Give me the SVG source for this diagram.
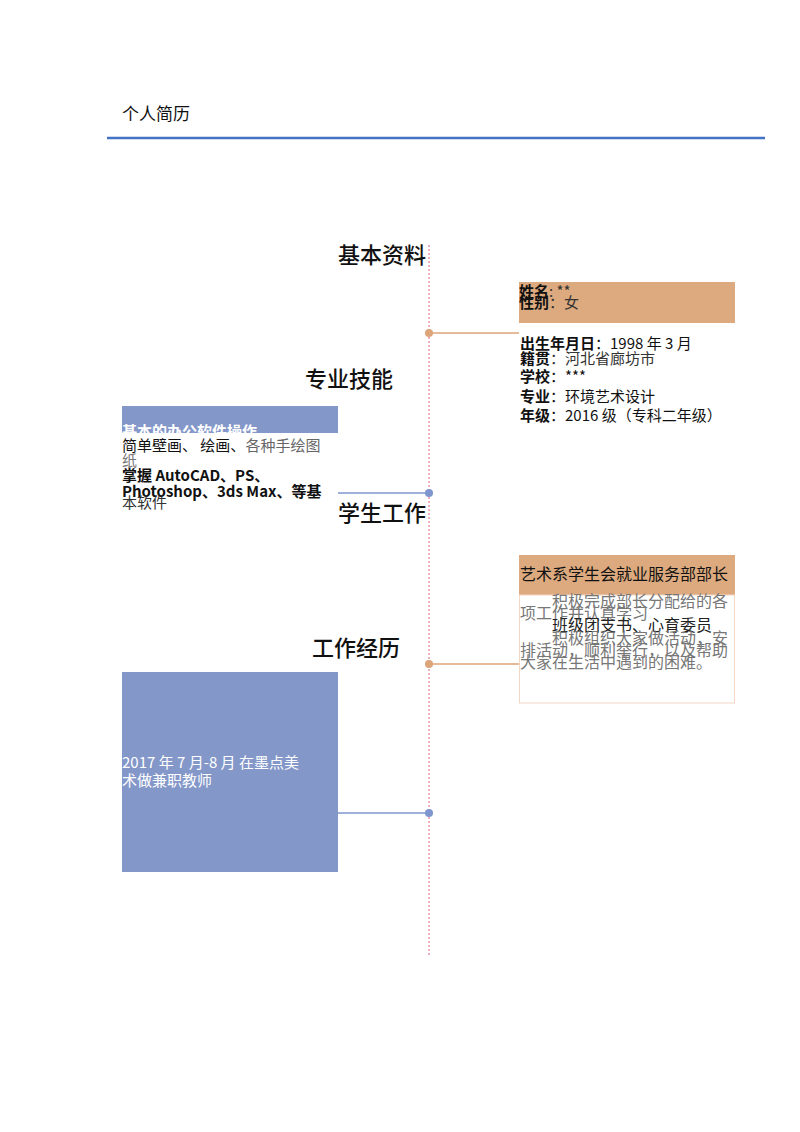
<svg xmlns="http://www.w3.org/2000/svg" width="800" height="1132" viewBox="0 0 800 1132">
<style>
text{font-family:"Noto Sans CJK SC","Liberation Sans",sans-serif}
.t{font-size:22px;fill:#111;font-weight:500}
.b{font-size:15px;font-weight:bold;fill:#111}
.n{font-size:15px;fill:#333}
.g{font-size:15px;fill:#777}
.s{font-size:16px;fill:#777}
</style>
<rect width="800" height="1132" fill="#fff"/>
<text x="122" y="120" font-size="17" fill="#111">个人简历</text>
<line x1="107" y1="138" x2="765" y2="138" stroke="#4472c4" stroke-width="2.5"/>
<g id="connectors">
<line x1="429" y1="245" x2="429" y2="955" stroke="#e06080" stroke-width="1" stroke-dasharray="2,2"/>
<line x1="429" y1="333" x2="519" y2="333" stroke="#dca57a" stroke-width="1.5"/>
<circle cx="429" cy="333" r="4" fill="#dca57a"/>
<line x1="338" y1="493" x2="429" y2="493" stroke="#7f96cf" stroke-width="1.5"/>
<circle cx="429" cy="493" r="4" fill="#7f96cf"/>
<line x1="429" y1="664" x2="519" y2="664" stroke="#dca57a" stroke-width="1.5"/>
<circle cx="429" cy="664" r="4" fill="#dca57a"/>
<line x1="338" y1="813" x2="429" y2="813" stroke="#7f96cf" stroke-width="1.5"/>
<circle cx="429" cy="813" r="4" fill="#7f96cf"/>
</g>
<g id="titles">
<text class="t" x="338" y="263">基本资料</text>
<text class="t" x="305" y="387">专业技能</text>
<text class="t" x="338" y="521">学生工作</text>
<text class="t" x="312" y="656">工作经历</text>
</g>
<g id="basic">
<rect x="519" y="282" width="216" height="41" fill="#dcaa7e"/>
<text x="519" y="297" class="b" font-size="16">姓名<tspan class="n" font-weight="normal">: **</tspan></text>
<text x="519" y="308" class="b" font-size="16">性别<tspan class="n" font-weight="normal">：女</tspan></text>
<text x="520" y="349" class="b">出生年月日<tspan font-weight="normal">：1998 年  3 月</tspan></text>
<text x="520" y="364" class="b">籍贯<tspan font-weight="normal" fill="#333">：河北省廊坊市</tspan></text>
<text x="520" y="382" class="b">学校<tspan font-weight="normal">：***</tspan></text>
<text x="520" y="402" class="b">专业<tspan font-weight="normal">：环境艺术设计</tspan></text>
<text x="520" y="421" class="b">年级<tspan font-weight="normal">：2016 级（专科二年级）</tspan></text>
</g>
<g id="skills">
<rect x="122" y="406" width="216" height="27" fill="#8497c9"/>
<text x="122" y="437" font-size="15" font-weight="bold" fill="#fff">基本的办公软件操作</text>
<rect x="122" y="433" width="216" height="8" fill="#fff"/>
<text x="122" y="451" font-size="15" fill="#111">简单壁画、 绘画、<tspan fill="#666">各种手绘图</tspan></text>
<text x="122" y="466" class="g">纸</text>
<text x="122" y="481" class="b" font-family="Liberation Sans,Noto Sans CJK SC,sans-serif" font-size="15">掌握 AutoCAD、PS、</text>
<text x="122" y="497" class="b" font-family="Liberation Sans,Noto Sans CJK SC,sans-serif" font-size="15">Photoshop、3ds Max、等基</text>
<text x="122" y="508" class="n">本软件</text>
</g>
<g id="student">
<rect x="519" y="555" width="216" height="40" fill="#dcaa7e"/>
<rect x="519.5" y="595" width="215" height="108" fill="none" stroke="#f3d6c3"/>
<text x="520" y="580" font-size="16" fill="#111">艺术系学生会就业服务部部长</text>
<text x="552" y="607" class="s">积极完成部长分配给的各</text>
<text x="520" y="619" class="s">项工作并认真学习</text>
<text x="552" y="631" font-size="16" fill="#222">班级团支书、心育委员</text>
<text x="552" y="644" class="s">积极组织大家做活动，安</text>
<text x="520" y="656" class="s">排活动，顺利举行，以及帮助</text>
<text x="520" y="668" class="s">大家在生活中遇到的困难。</text>
</g>
<g id="work">
<rect x="122" y="672" width="216" height="200" fill="#8497c9"/>
<text x="122" y="768" font-family="Liberation Serif,Noto Sans CJK SC,serif" font-size="15" fill="#fff">2017 年 7 月-8 月 在墨点美</text>
<text x="122" y="786" font-size="15" fill="#fff">术做兼职教师</text>
</g>
</svg>
